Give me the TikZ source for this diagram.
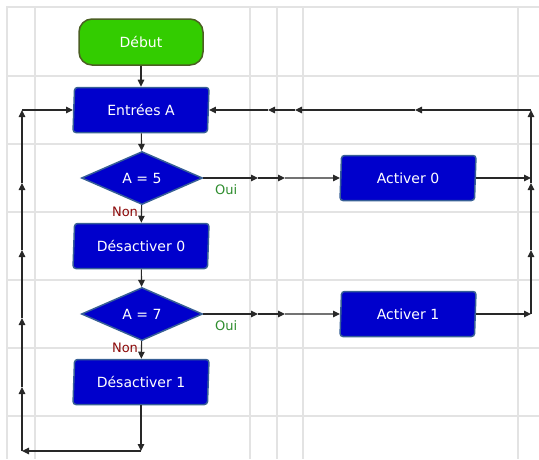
\documentclass[tikz,border=0pt]{standalone}
\usepackage{fontspec}
\setmainfont{DejaVu Sans}
\usepackage{xcolor}
\usepackage{tikz}
\usetikzlibrary{positioning,arrows.meta,shapes.geometric}
\definecolor{startfill}{RGB}{51,204,0}
\definecolor{startedge}{RGB}{75,95,35}
\definecolor{boxfill}{RGB}{0,0,204}
\definecolor{boxedge}{RGB}{55,95,150}
\definecolor{ouicolor}{RGB}{45,140,45}
\definecolor{noncolor}{RGB}{140,10,10}
\definecolor{wire}{RGB}{40,40,40}
\tikzset{
startbox/.style={
draw=startedge,
line width=1.5pt,
rounded corners=13pt,
minimum width=124pt,
minimum height=46pt,
fill=startfill,
text=white,
font=\fontsize{14}{16}\selectfont
},
iobox/.style={
trapezium,
trapezium left angle=85,
trapezium right angle=95,
trapezium stretches body=true,
draw=boxedge,
line width=1.5pt,
rounded corners=3pt,
minimum width=136pt,
minimum height=45pt,
fill=boxfill,
text=white,
font=\fontsize{14}{16}\selectfont
},
testbox/.style={
diamond,
draw=boxedge,
line width=1.5pt,
inner sep=0pt,
minimum width=121pt,
minimum height=53pt,
fill=boxfill,
text=white,
font=\fontsize{14}{16}\selectfont
},
arrow/.style={
-{Triangle[length=7pt,width=6.5pt]},
line width=1.1pt,
draw=wire
},
gridline/.style={
draw=gray!22,
line width=1.2pt
},
yeslabel/.style={
text=ouicolor,
font=\fontsize{13}{15}\selectfont
},
nolabel/.style={
text=noncolor,
font=\fontsize{13}{15}\selectfont
}
}

\begin{document}
\begin{tikzpicture}[x=1pt,y=-1pt,node distance=68pt,on grid]

\useasboundingbox (0,0) rectangle (539,459);

% grille
\foreach \x in {35,250,277,303,518}
\draw[gridline](\x,7)--(\x,459);
\foreach \y in {76,144,212,280,348,416}
\draw[gridline](7,\y)--(539,\y);
\draw[gridline,line width=2.5pt](7,459)--(7,7)--(539,7);

\node[startbox](a) at (141,42){Début};

\node[iobox,below=of a](b){Entrées A};

\node[testbox,below=of b,xshift=1pt](c){A = 5};

\node[iobox,below=of c,xshift=-1pt](d){Désactiver 0};

\node[testbox,below=of d,xshift=1pt](e){A = 7};

\node[iobox,below=of e,xshift=-1pt](f){Désactiver 1};

\node[iobox,right=266pt of c](g){Activer 0};

\node[iobox,right=266pt of e](h){Activer 1};

\node[yeslabel](oui5) at ([xshift=23pt,yshift=-12pt]c.east){Oui};
\node[yeslabel](oui7) at ([xshift=23pt,yshift=-12pt]e.east){Oui};
\node[nolabel](non5) at ([xshift=-17pt,yshift=-7pt]c.south){Non};
\node[nolabel](non7) at ([xshift=-17pt,yshift=-7pt]e.south){Non};

% points de passage
\coordinate(c1) at (258,0 |- c.east);
\coordinate(c2) at (285,0 |- c.east);
\coordinate(e1) at (258,0 |- e.east);
\coordinate(e2) at (285,0 |- e.east);
\coordinate(r0) at (531,0 |- g.east);
\coordinate(r1) at (531,0 |- h.east);
\coordinate(r2) at (531,250);
\coordinate(r3) at (531,183);
\coordinate(r4) at (531,0 |- b.east);
\coordinate(t1) at (415,0 |- b.east);
\coordinate(t2) at (295,0 |- b.east);
\coordinate(t3) at (268,0 |- b.east);
\coordinate(l0) at (f.south |- 0,451);
\coordinate(l1) at (22,451);
\coordinate(l2) at (22,387);
\coordinate(l3) at (22,318);
\coordinate(l4) at (22,250);
\coordinate(l5) at (22,183);
\coordinate(l6) at (22,0 |- b.west);

\foreach \x/\y in {a/b,b/c,c/d,d/e,e/f}
\draw[arrow](\x)--(\y);

\foreach \x/\y in {c.east/c1,c1/c2,c2/g.west,e.east/e1,e1/e2,e2/h.west,g.east/r0,h.east/r1}
\draw[arrow](\x)--(\y);

\foreach \x/\y in {r1/r2,r2/r3,r3/r4,r4/t1,t1/t2,t2/t3,t3/b.east}
\draw[arrow](\x)--(\y);

\foreach \x/\y in {f.south/l0,l0/l1,l1/l2,l2/l3,l3/l4,l4/l5,l5/l6,l6/b.west}
\draw[arrow](\x)--(\y);

\end{tikzpicture}
\end{document}
